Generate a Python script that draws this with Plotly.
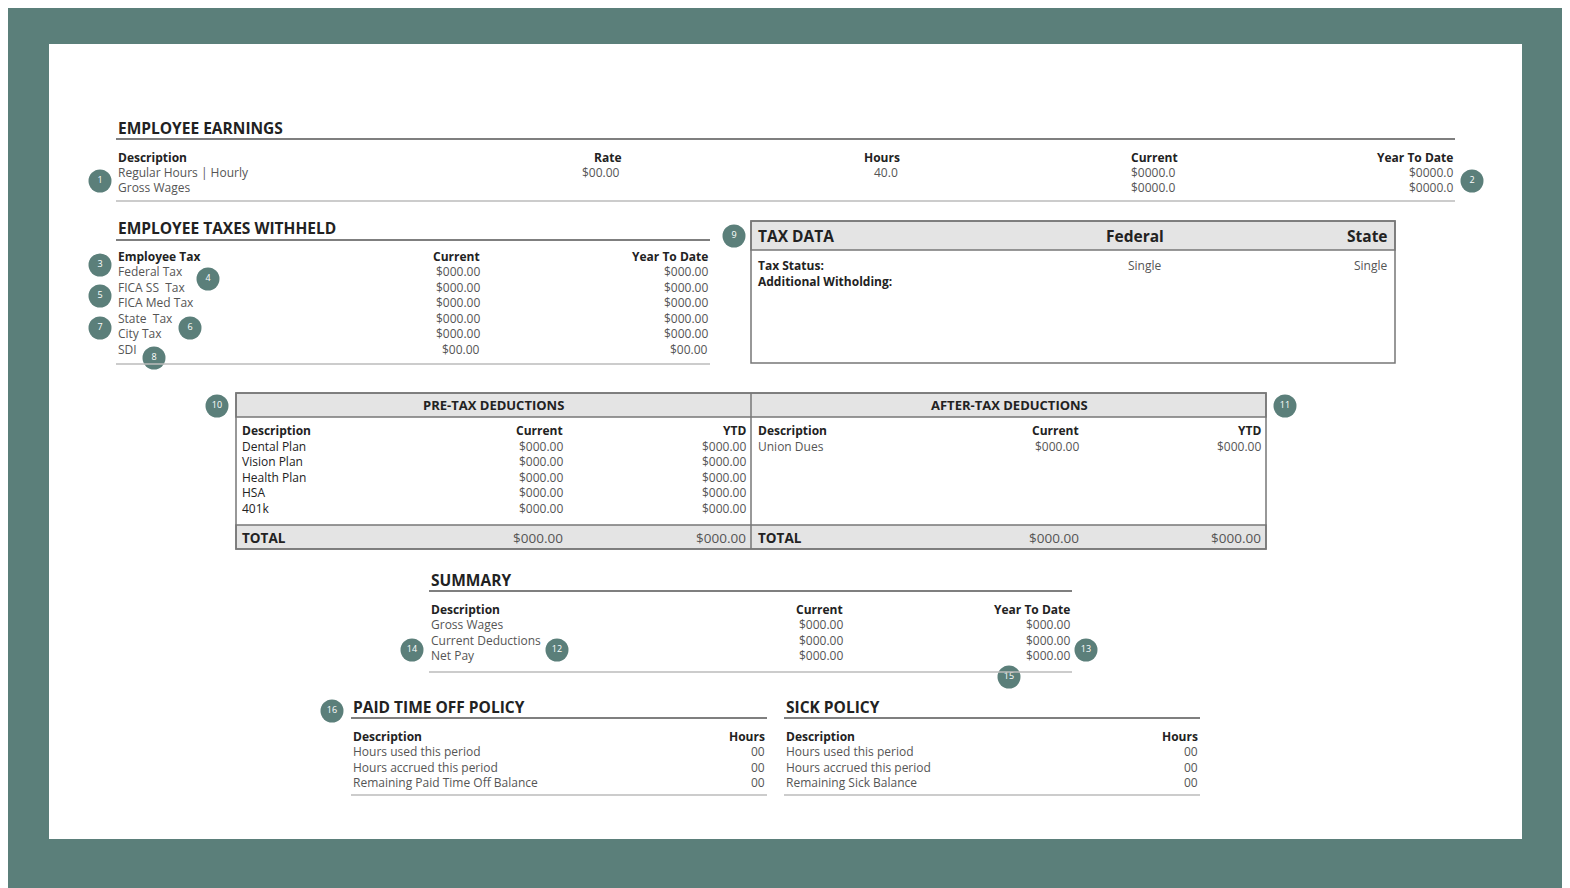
import plotly.graph_objects as go

FONT = "Open Sans"
DARK = "#222222"
GRAY = "#555555"
TEAL = "#5b7f7a"

earn_headers = ["Description", "Rate", "Hours", "Current", "Year To Date"]
earn_desc = ["Regular Hours | Hourly", "Gross Wages"]
earn_rate = ["$00.00", ""]
earn_hours = ["40.0", ""]
earn_current = ["$0000.0", "$0000.0"]
earn_ytd = ["$0000.0", "$0000.0"]

tax_headers = ["Employee Tax", "Current", "Year To Date"]
tax_desc = ["Federal Tax", "FICA SS  Tax", "FICA Med Tax", "State  Tax", "City Tax", "SDI"]
tax_current = ["$000.00", "$000.00", "$000.00", "$000.00", "$000.00", "$00.00"]
tax_ytd = ["$000.00", "$000.00", "$000.00", "$000.00", "$000.00", "$00.00"]

taxdata_cols = ["TAX DATA", "Federal", "State"]
taxdata_rows = ["Tax Status:", "Additional Witholding:"]
taxdata_fed = ["Single", ""]
taxdata_state = ["Single", ""]

pre_desc = ["Dental Plan", "Vision Plan", "Health Plan", "HSA", "401k"]
pre_current = ["$000.00"] * 5
pre_ytd = ["$000.00"] * 5
pre_total = ["$000.00", "$000.00"]
after_desc = ["Union Dues"]
after_current = ["$000.00"]
after_ytd = ["$000.00"]
after_total = ["$000.00", "$000.00"]

sum_desc = ["Gross Wages", "Current Deductions", "Net Pay"]
sum_current = ["$000.00", "$000.00", "$000.00"]
sum_ytd = ["$000.00", "$000.00", "$000.00"]

pto_desc = ["Hours used this period", "Hours accrued this period", "Remaining Paid Time Off Balance"]
pto_hours = ["00", "00", "00"]
sick_desc = ["Hours used this period", "Hours accrued this period", "Remaining Sick Balance"]
sick_hours = ["00", "00", "00"]

badge_labels = [str(i) for i in range(1, 17)]
badge_x = [100, 1472, 100, 208, 100, 190, 100, 154, 734, 217, 1285, 557, 1086, 412, 1009, 332]
badge_y = [181, 181, 265, 279, 296, 328, 328, 358, 236, 406, 406, 650, 650, 650, 677, 711]

fig = go.Figure()
ann = []
shapes = []

def T(x, y, s, anchor="left", bold=False, size=12, color=GRAY):
    if bold:
        s = "<b>" + s + "</b>"
        color = DARK
    ann.append(dict(x=x, y=y, text=s, xanchor=anchor, yanchor="middle", showarrow=False,
                    font=dict(family=FONT, size=size, color=color)))

def line(x0, x1, y, color="#bbbbbb", w=1.5):
    shapes.append(dict(type="line", x0=x0, x1=x1, y0=y, y1=y, line=dict(color=color, width=w)))

def rect(x0, y0, x1, y1, fill="rgba(0,0,0,0)", lc="#777777", w=1.5, layer="below"):
    shapes.append(dict(type="rect", x0=x0, x1=x1, y0=y0, y1=y1, fillcolor=fill,
                       line=dict(color=lc, width=w), layer=layer))

# frame
rect(0, 0, 1580, 900, fill=TEAL, lc=TEAL, w=0)
rect(49, 44, 1522, 839, fill="white", lc="white", w=0)

# Earnings
T(116, 128, "EMPLOYEE EARNINGS", bold=True, size=15.5)
line(116, 1455, 139, "#555555", 1.5)
T(116, 157, earn_headers[0], bold=True)
T(607, 157, earn_headers[1], "center", bold=True)
T(882, 157, earn_headers[2], "center", bold=True)
T(1154, 157, earn_headers[3], "center", bold=True)
T(1455, 157, earn_headers[4], "right", bold=True)
for i in range(2):
    y = 172 + i * 15.5
    T(116, y, earn_desc[i])
    T(601, y, earn_rate[i], "center")
    T(886, y, earn_hours[i], "center")
    T(1177, y, earn_current[i], "right")
    T(1455, y, earn_ytd[i], "right")
line(116, 1455, 201)

# Taxes
T(116, 228, "EMPLOYEE TAXES WITHHELD", bold=True, size=15.5)
line(116, 710, 240, "#555555")
T(116, 256, tax_headers[0], bold=True)
T(482, 256, tax_headers[1], "right", bold=True)
T(710, 256, tax_headers[2], "right", bold=True)
for i in range(len(tax_desc)):
    y = 271.5 + i * 15.5
    T(116, y, tax_desc[i])
    T(482, y, tax_current[i], "right")
    T(710, y, tax_ytd[i], "right")
line(116, 710, 364)

# Tax data box
rect(751, 221, 1395, 250, fill="#e4e4e4", lc="#777777")
rect(751, 221, 1395, 363, lc="#777777")
T(756, 236, taxdata_cols[0], bold=True, size=15.5)
T(1135, 236, taxdata_cols[1], "center", bold=True, size=15.5)
T(1390, 236, taxdata_cols[2], "right", bold=True, size=15.5)
for i in range(2):
    y = 265.5 + i * 15.5
    T(756, y, taxdata_rows[i], bold=True)
    T(1145, y, taxdata_fed[i], "center")
    T(1390, y, taxdata_state[i], "right")

# Deductions
rect(236, 393, 1266, 417, fill="#e4e4e4")
rect(236, 525, 1266, 549, fill="#e4e4e4")
rect(236, 393, 1266, 549)
shapes.append(dict(type="line", x0=751, x1=751, y0=393, y1=549, line=dict(color="#777777", width=1.5)))
T(493, 405, "PRE-TAX DEDUCTIONS", "center", bold=True, size=13)
T(1009, 405, "AFTER-TAX DEDUCTIONS", "center", bold=True, size=13)
T(240, 430, "Description", bold=True)
T(565, 430, "Current", "right", bold=True)
T(748, 430, "YTD", "right", bold=True)
T(756, 430, "Description", bold=True)
T(1081, 430, "Current", "right", bold=True)
T(1263, 430, "YTD", "right", bold=True)
for i in range(len(pre_desc)):
    y = 446 + i * 15.6
    T(240, y, pre_desc[i], color=DARK)
    T(565, y, pre_current[i], "right")
    T(748, y, pre_ytd[i], "right")
for i in range(len(after_desc)):
    y = 446 + i * 15.6
    T(756, y, after_desc[i])
    T(1081, y, after_current[i], "right")
    T(1263, y, after_ytd[i], "right")
T(240, 538, "TOTAL", bold=True, size=13.5)
T(565, 538, pre_total[0], "right", size=13.5)
T(748, 538, pre_total[1], "right", size=13.5)
T(756, 538, "TOTAL", bold=True, size=13.5)
T(1081, 538, after_total[0], "right", size=13.5)
T(1263, 538, after_total[1], "right", size=13.5)

# Summary
T(429, 580, "SUMMARY", bold=True, size=15.5)
line(429, 1072, 591, "#555555")
T(429, 609, "Description", bold=True)
T(845, 609, "Current", "right", bold=True)
T(1072, 609, "Year To Date", "right", bold=True)
for i in range(3):
    y = 624.5 + i * 15.5
    T(429, y, sum_desc[i])
    T(845, y, sum_current[i], "right")
    T(1072, y, sum_ytd[i], "right")
line(429, 1072, 672)

# PTO / Sick
for (x0, x1, title, desc, hrs) in [(351, 767, "PAID TIME OFF POLICY", pto_desc, pto_hours),
                                   (784, 1200, "SICK POLICY", sick_desc, sick_hours)]:
    T(x0, 707, title, bold=True, size=15.5)
    line(x0, x1, 718, "#555555")
    T(x0, 736, "Description", bold=True)
    T(x1, 736, "Hours", "right", bold=True)
    for i in range(3):
        y = 751.5 + i * 15.5
        T(x0, y, desc[i])
        T(x1, y, hrs[i], "right")
    line(x0, x1, 795)

# badges
fig.add_trace(go.Scatter(x=badge_x, y=badge_y, mode="markers+text", text=badge_labels,
                         textposition="middle center",
                         textfont=dict(family=FONT, size=9, color="white"),
                         marker=dict(size=23, color=TEAL, line=dict(width=0)),
                         hoverinfo="skip", showlegend=False))

fig.update_layout(width=1570, height=888, margin=dict(l=0, r=0, t=0, b=0),
                  paper_bgcolor=TEAL, plot_bgcolor=TEAL,
                  xaxis=dict(range=[8, 1578], visible=False, fixedrange=True),
                  yaxis=dict(range=[896, 8], visible=False, fixedrange=True),
                  shapes=shapes, annotations=ann, showlegend=False)
fig.write_html("out.html")
